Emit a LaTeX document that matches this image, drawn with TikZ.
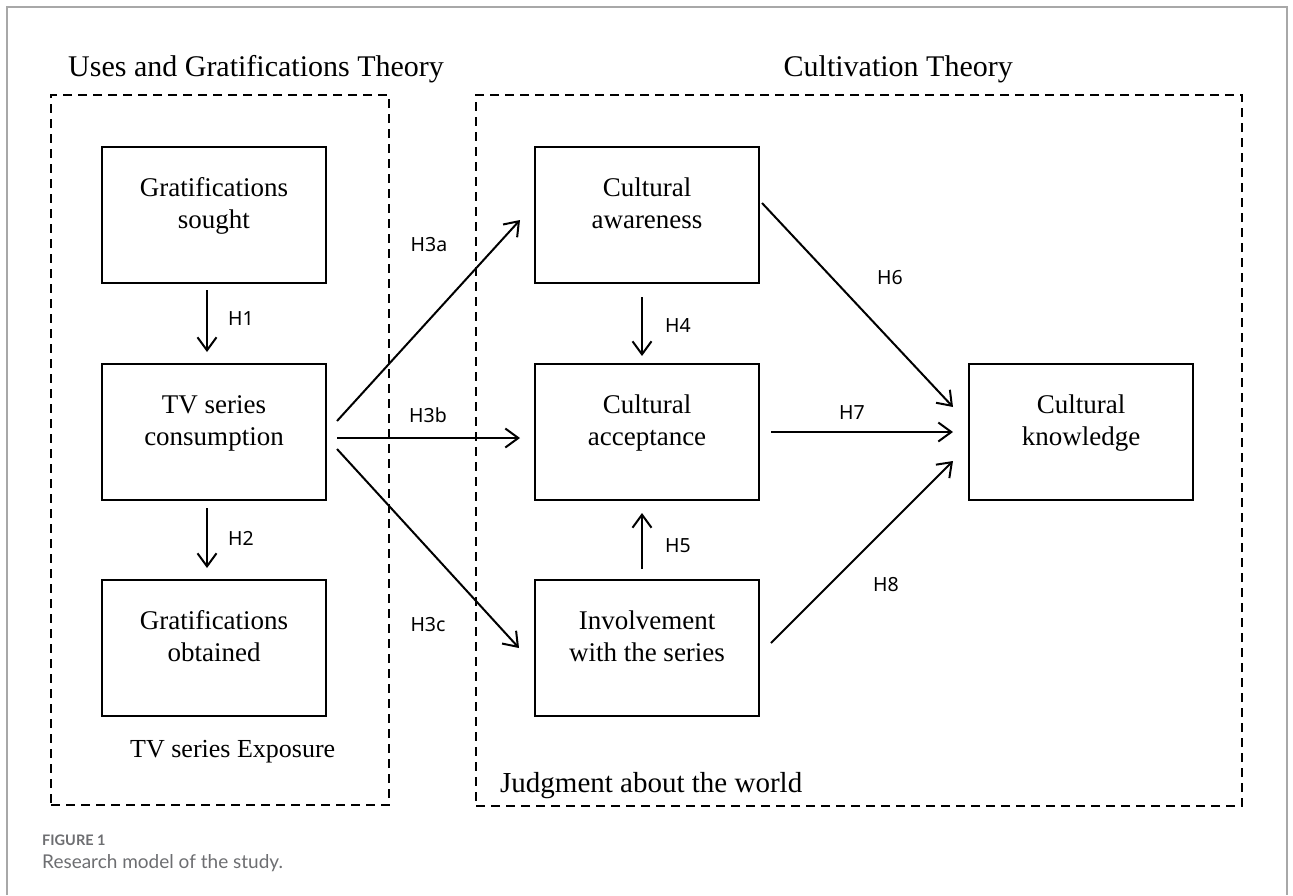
\documentclass[tikz,border=0pt]{standalone}
\usepackage{fontspec}
\setmainfont{Liberation Serif}
\newfontfamily\hfont{Noto Sans}
\newfontfamily\capfont{Lato}
\usetikzlibrary{arrows.meta}
\definecolor{capgray}{HTML}{6D6E71}
\definecolor{framegray}{HTML}{A8A8A8}
\begin{document}
\begin{tikzpicture}[x=1pt,y=-1pt,
  box/.style={draw, line width=2pt, minimum width=224pt, minimum height=136pt, inner sep=0pt},
  boxtext/.style={font=\fontsize{27}{32}\selectfont, align=center, inner sep=0pt},
  hyp/.style={font=\hfont\fontsize{19.5}{22}\selectfont, inner sep=0pt},
  titletext/.style={font=\fontsize{30}{36}\selectfont, inner sep=0pt},
  dashbox/.style={draw, line width=2.4pt, dash pattern=on 9pt off 6pt, inner sep=0pt},
  arr/.style={line width=2pt, -{Straight Barb[length=13pt,width=19pt]}}
]
\useasboundingbox (0,0) rectangle (1293,895);
% card frame
\draw[framegray, line width=1.5pt] (7,895) -- (7,7) -- (1287,7) -- (1287,895);

% titles
\node[titletext, anchor=base west] (t1) at (68,76) {Uses and Gratifications Theory};
\node[titletext, anchor=base east] (t2) at (1013,76) {Cultivation Theory};

% dashed frames
\node[dashbox, minimum width=338pt, minimum height=710pt] (lframe) at (220,450) {};
\node[dashbox, minimum width=766pt, minimum height=711pt] (rframe) at (859,450.5) {};

% boxes
\node[box] (gs) at (214,215) {};
\node[box] (tv) at (214,432) {};
\node[box] (go) at (214,648) {};
\node[box] (ca) at (647,215) {};
\node[box] (cacc) at (647,432) {};
\node[box] (inv) at (647,648) {};
\node[box] (ck) at (1081,432) {};

\node[boxtext] (gst) at ([yshift=9pt]gs.center) {Gratifications\strut\\sought\strut};
\node[boxtext] (tvt) at ([yshift=9pt]tv.center) {TV series\strut\\consumption\strut};
\node[boxtext] (got) at ([yshift=9pt]go.center) {Gratifications\strut\\obtained\strut};
\node[boxtext] (cat) at ([yshift=9pt]ca.center) {Cultural\strut\\awareness\strut};
\node[boxtext] (cacct) at ([yshift=9pt]cacc.center) {Cultural\strut\\acceptance\strut};
\node[boxtext] (invt) at ([yshift=9pt]inv.center) {Involvement\strut\\with the series\strut};
\node[boxtext] (ckt) at ([yshift=9pt]ck.center) {Cultural\strut\\knowledge\strut};

% arrows
\draw[arr] ([xshift=-7pt,yshift=-6pt]gs.south) -- ([xshift=-7pt,yshift=11pt]tv.north);
\draw[arr] ([xshift=-7pt,yshift=-7pt]tv.south) -- ([xshift=-7pt,yshift=11pt]go.north);
\draw[arr] ([xshift=-5pt,yshift=-13pt]ca.south) -- ([xshift=-5pt,yshift=7pt]cacc.north);
\draw[arr] ([xshift=-5pt,yshift=10pt]inv.north) -- ([xshift=-5pt,yshift=-12pt]cacc.south);
\draw[arr] ([xshift=10pt,yshift=11pt]tv.east) -- ([xshift=-14pt,yshift=-5pt]ca.west);
\draw[arr] ([xshift=10pt,yshift=-6pt]tv.east) -- ([xshift=-14pt,yshift=-6pt]cacc.west);
\draw[arr] ([xshift=10pt,yshift=-17pt]tv.east) -- ([xshift=-15pt]inv.west);
\draw[arr] ([xshift=2pt,yshift=12pt]ca.east) -- ([xshift=-15pt,yshift=25pt]ck.west);
\draw[arr] ([xshift=11pt]cacc.east) -- ([xshift=-15pt]ck.west);
\draw[arr] ([xshift=11pt,yshift=5pt]inv.east) -- ([xshift=-15pt,yshift=-29pt]ck.west);

% hypothesis labels
\node[hyp] (h1) at (241,319) {H1};
\node[hyp] (h2) at (241,538) {H2};
\node[hyp] (h3a) at (429,245) {H3a};
\node[hyp] (h3b) at (428,415) {H3b};
\node[hyp] (h3c) at (428,625) {H3c};
\node[hyp] (h4) at (678,325) {H4};
\node[hyp] (h5) at (678,546) {H5};
\node[hyp] (h6) at (890,278) {H6};
\node[hyp] (h7) at (852,413) {H7};
\node[hyp] (h8) at (886,585) {H8};

% bottom labels
\node[anchor=base west, inner sep=0pt, font=\fontsize{26}{31}\selectfont] (exp) at (130,757) {TV series Exposure};
\node[anchor=base west, inner sep=0pt, font=\fontsize{29}{34}\selectfont] (jud) at (500,792) {Judgment about the world};

% caption
\node[anchor=base west, inner sep=0pt, text=capgray, font=\capfont\bfseries\fontsize{14.5}{17}\selectfont] (fig) at (42,845) {FIGURE 1};
\node[anchor=base west, inner sep=0pt, text=capgray, font=\capfont\fontsize{19}{23}\selectfont] (cap) at (42,868) {Research model of the study.};
\end{tikzpicture}
\end{document}
